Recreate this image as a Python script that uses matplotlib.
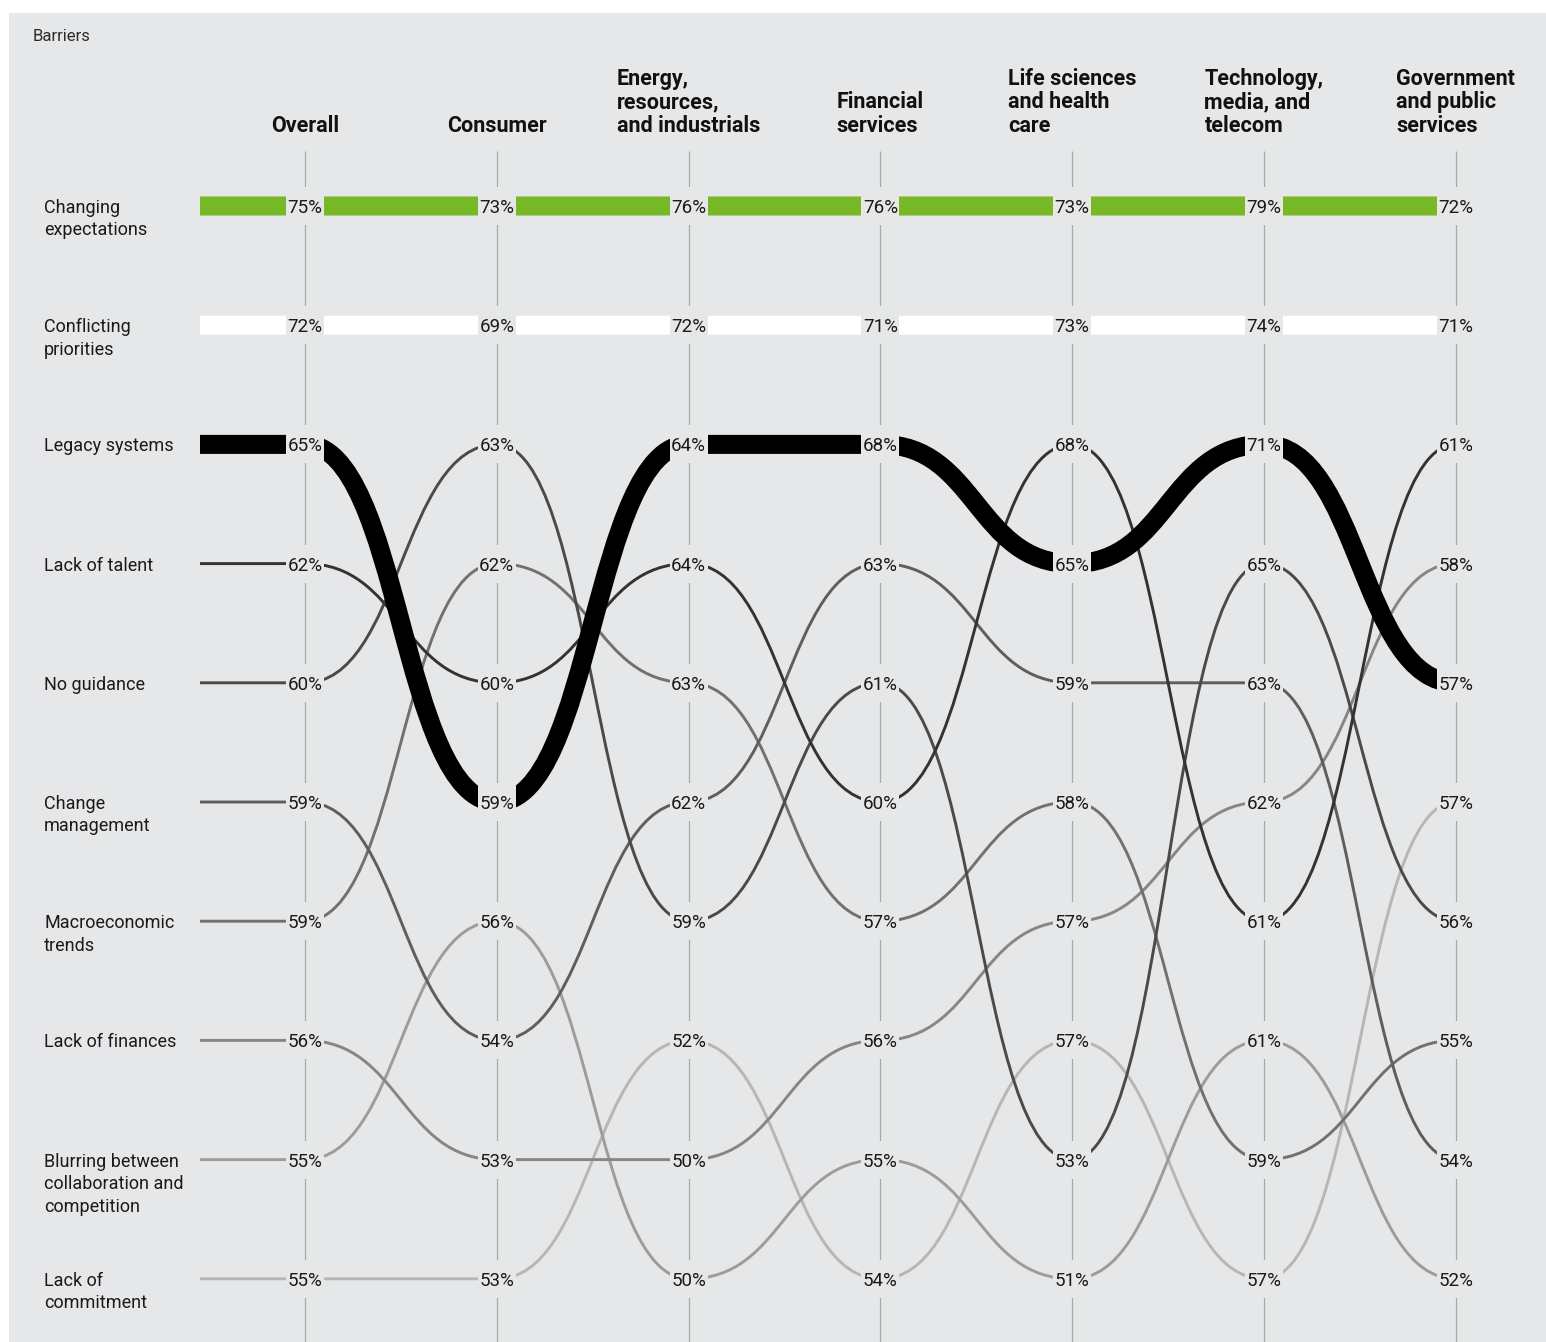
import numpy as np
import matplotlib
matplotlib.use("Agg")
import matplotlib.pyplot as plt
from matplotlib.path import Path
from matplotlib.patches import PathPatch, Rectangle

# ---------------- data ----------------
columns = ["Overall", "Consumer", "Energy,\nresources,\nand industrials", "Financial\nservices",
           "Life sciences\nand health\ncare", "Technology,\nmedia, and\ntelecom",
           "Government\nand public\nservices"]
barriers = ["Changing\nexpectations", "Conflicting\npriorities", "Legacy systems", "Lack of talent",
            "No guidance", "Change\nmanagement", "Macroeconomic\ntrends", "Lack of finances",
            "Blurring between\ncollaboration and\ncompetition", "Lack of\ncommitment"]

# share of respondents (%) per column
changing_expectations = [75, 73, 76, 76, 73, 79, 72]
conflicting_priorities = [72, 69, 72, 71, 73, 74, 71]
legacy_systems = [65, 59, 64, 68, 65, 71, 57]
lack_of_talent = [62, 60, 64, 60, 68, 61, 61]
no_guidance = [60, 63, 59, 61, 53, 65, 56]
change_management = [59, 54, 62, 63, 59, 63, 54]
macroeconomic = [59, 62, 63, 57, 58, 59, 55]
lack_of_finances = [56, 53, 50, 56, 57, 62, 58]
blurring = [55, 56, 50, 55, 51, 61, 52]
lack_of_commitment = [55, 53, 52, 54, 57, 57, 57]

# rank (1 = top) per column
rank_changing = [1, 1, 1, 1, 1, 1, 1]
rank_conflicting = [2, 2, 2, 2, 2, 2, 2]
rank_legacy = [3, 6, 3, 3, 4, 3, 5]
rank_talent = [4, 5, 4, 6, 3, 7, 3]
rank_guidance = [5, 3, 7, 5, 9, 4, 7]
rank_change = [6, 8, 6, 4, 5, 5, 9]
rank_macro = [7, 4, 5, 7, 6, 9, 8]
rank_finances = [8, 9, 9, 8, 7, 6, 4]
rank_blurring = [9, 7, 10, 9, 10, 8, 10]
rank_commitment = [10, 10, 8, 10, 8, 10, 6]

values = [changing_expectations, conflicting_priorities, legacy_systems, lack_of_talent, no_guidance,
          change_management, macroeconomic, lack_of_finances, blurring, lack_of_commitment]
ranks = [rank_changing, rank_conflicting, rank_legacy, rank_talent, rank_guidance, rank_change,
         rank_macro, rank_finances, rank_blurring, rank_commitment]

# ---------------- style ----------------
BG = "#e6e7e9"
colors = ["#76b826", "#ffffff", "#000000", "#333333", "#4a4a4a", "#5e5e5e", "#717171",
          "#868686", "#9c9c9c", "#b6b6b6"]
widths = [13.7, 13.7, 13.7, 2.1, 2.1, 2.1, 2.1, 2.1, 2.1, 2.1]

W, H = 1546, 1342
X0, DX = 305, 191.8      # column layout (pixels)
Y0, DY = 206, 119.2      # row layout (pixels)
XSTART = 200

def col_x(i):
    return X0 + i * DX

def row_y(r):
    return Y0 + (r - 1) * DY

fig = plt.figure(figsize=(W / 100, H / 100), dpi=100)
fig.patch.set_facecolor("white")
ax = fig.add_axes([0, 0, 1, 1])
ax.set_xlim(0, W)
ax.set_ylim(H, 0)
ax.axis("off")

ax.add_patch(Rectangle((9, 13), W - 9, H - 13, facecolor=BG, edgecolor="none", zorder=0))

FONT = ["Roboto", "DejaVu Sans"]

ax.text(33, 41, "Barriers", fontsize=12, family=FONT, color="#2a2a2a", ha="left",
        va="baseline")

# column headers and vertical guides
for i, name in enumerate(columns):
    x = col_x(i)
    ax.text(x, 137, name, fontsize=15.5, family=FONT, fontweight="bold", ha="center",
            va="bottom", multialignment="left", linespacing=1.1, color="#111111")
    ax.plot([x, x], [151, H], color="#a9a9a9", lw=0.9, zorder=1, solid_capstyle="butt")

# barrier paths
order = list(range(len(barriers)))[::-1]
for b in order:
    rk = ranks[b]
    verts = [(XSTART, row_y(rk[0])), (col_x(0), row_y(rk[0]))]
    codes = [Path.MOVETO, Path.LINETO]
    for i in range(len(columns) - 1):
        x1, y1 = col_x(i), row_y(rk[i])
        x2, y2 = col_x(i + 1), row_y(rk[i + 1])
        xm = (x1 + x2) / 2
        verts += [(xm, y1), (xm, y2), (x2, y2)]
        codes += [Path.CURVE4] * 3
    thick = widths[b] > 5
    patch = PathPatch(Path(verts, codes), facecolor="none", edgecolor=colors[b], lw=widths[b],
                      capstyle="butt", joinstyle="round", zorder=3 if thick else 2)
    ax.add_patch(patch)

# row labels
for b, name in enumerate(barriers):
    ax.text(44, row_y(b + 1) - 7, name, fontsize=13, family=FONT, ha="left", va="top",
            linespacing=1.32, color="#1a1a1a")

# value labels with background knockout
for b in range(len(barriers)):
    for i in range(len(columns)):
        x, y = col_x(i), row_y(ranks[b][i])
        ax.add_patch(Rectangle((x - 19, y - 19), 38, 38, facecolor=BG, edgecolor="none", zorder=5))
        ax.text(x, y, f"{values[b][i]}%", fontsize=13.5, family=FONT, ha="center",
                va="center_baseline", color="#1a1a1a", zorder=6)

fig.savefig("out.png", dpi=100, facecolor="white")
